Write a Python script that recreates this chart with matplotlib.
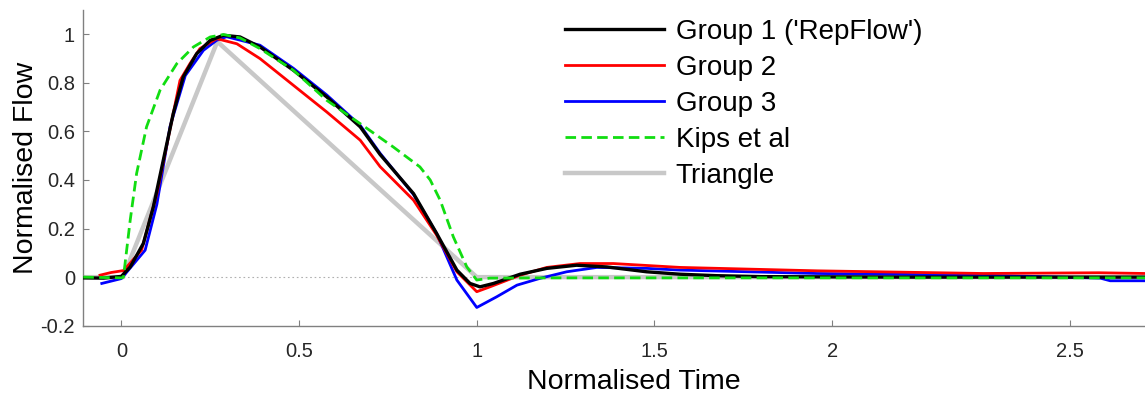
import numpy as np
import matplotlib
matplotlib.use('Agg')
import matplotlib.pyplot as plt

plt.rcParams['font.family'] = ['Liberation Sans', 'DejaVu Sans']

# Group 1 ('RepFlow')
g1_t = [-0.107, -0.05, 0.0, 0.025, 0.062, 0.09, 0.118, 0.146, 0.174, 0.212, 0.25, 0.287,
        0.334, 0.39, 0.484, 0.578, 0.672, 0.728, 0.822, 0.887, 0.944, 0.981, 1.009, 1.047,
        1.122, 1.197, 1.281, 1.366, 1.478, 1.572, 1.675, 1.8, 2.2, 2.6, 2.88]
g1_f = [-0.003, -0.004, 0.003, 0.042, 0.139, 0.289, 0.481, 0.673, 0.824, 0.92, 0.975, 0.996,
        0.989, 0.948, 0.852, 0.742, 0.619, 0.505, 0.344, 0.18, 0.029, -0.026, -0.04, -0.026,
        0.012, 0.036, 0.049, 0.042, 0.022, 0.012, 0.006, 0.002, 0.0, 0.0, 0.0]

# Group 2
g2_t = [-0.06, -0.029, 0.006, 0.057, 0.1, 0.165, 0.193, 0.221, 0.268, 0.325, 0.39, 0.484,
        0.578, 0.672, 0.728, 0.822, 0.887, 0.944, 1.0, 1.037, 1.122, 1.197, 1.29, 1.384,
        1.572, 1.957, 2.425, 2.75, 2.88]
g2_f = [0.008, 0.019, 0.027, 0.111, 0.344, 0.81, 0.879, 0.941, 0.982, 0.961, 0.9, 0.79,
        0.68, 0.564, 0.455, 0.317, 0.173, 0.022, -0.06, -0.04, 0.008, 0.04, 0.056, 0.056,
        0.04, 0.026, 0.015, 0.018, 0.015]

# Group 3
g3_t = [-0.055, 0.0, 0.067, 0.1, 0.137, 0.18, 0.231, 0.268, 0.296, 0.39, 0.484, 0.578,
        0.672, 0.728, 0.822, 0.887, 0.944, 1.0, 1.056, 1.113, 1.178, 1.253, 1.338, 1.478,
        1.572, 1.957, 2.425, 2.754, 2.782, 2.88]
g3_f = [-0.026, -0.006, 0.111, 0.3, 0.62, 0.83, 0.934, 0.975, 0.99, 0.955, 0.86, 0.75,
        0.625, 0.51, 0.34, 0.18, -0.012, -0.125, -0.081, -0.033, -0.005, 0.022, 0.04, 0.036,
        0.029, 0.015, 0.008, -0.004, -0.015, -0.015]

# Kips et al
kips_t = [-0.107, 0.0, 0.006, 0.025, 0.043, 0.071, 0.109, 0.156, 0.203, 0.25, 0.287, 0.334,
          0.39, 0.484, 0.578, 0.672, 0.765, 0.84, 0.869, 0.897, 0.934, 0.972, 1.0, 1.037,
          1.2, 2.88]
kips_f = [0.0, -0.003, 0.0, 0.235, 0.427, 0.619, 0.77, 0.879, 0.948, 0.989, 0.999, 0.985,
          0.941, 0.852, 0.728, 0.632, 0.536, 0.454, 0.4, 0.317, 0.166, 0.042, -0.012, -0.004,
          -0.003, -0.003]

# Triangle
tri_t = [-0.107, 0.005, 0.27, 1.0, 2.88]
tri_f = [0.0, 0.0, 0.97, 0.0, 0.0]

xtick_pos = [0, 0.5, 1, 1.5, 2, 2.67]
xtick_lab = ['0', '0.5', '1', '1.5', '2', '2.5']
ytick_pos = [-0.2, 0, 0.2, 0.4, 0.6, 0.8, 1]
ytick_lab = ['-0.2', '0', '0.2', '0.4', '0.6', '0.8', '1']

W, H = 1145, 395
fig = plt.figure(figsize=(W / 100, H / 100), dpi=100)
ax = fig.add_axes([83.3 / W, 1 - 325.7 / H, 1 - 83.3 / W, (325.7 - 10) / H])

ax.axhline(0, color='#b0b0b0', lw=0.8, ls=(0, (1.5, 2.5)), zorder=0)

l_tri, = ax.plot(tri_t, tri_f, color='#c8c8c8', lw=3.2, zorder=1, label='Triangle')
l_g3, = ax.plot(g3_t, g3_f, color='#0000ff', lw=2.0, zorder=2, label='Group 3')
l_g2, = ax.plot(g2_t, g2_f, color='#ff0000', lw=2.0, zorder=3, label='Group 2')
l_g1, = ax.plot(g1_t, g1_f, color='#000000', lw=2.4, zorder=4, label="Group 1 ('RepFlow')")
l_k, = ax.plot(kips_t, kips_f, color='#11dd11', lw=2.0, dashes=(3.8, 1.9), zorder=5, label='Kips et al')

ax.set_xlim(-0.107, 2.88)
ax.set_ylim(-0.2, 1.1)
ax.set_xticks(xtick_pos)
ax.set_xticklabels(xtick_lab)
ax.set_yticks(ytick_pos)
ax.set_yticklabels(ytick_lab)

for s in ['top', 'right']:
    ax.spines[s].set_visible(False)
for s in ['left', 'bottom']:
    ax.spines[s].set_color('#808080')
    ax.spines[s].set_linewidth(1.0)

ax.tick_params(axis='both', direction='in', length=4, width=0.8, color='#808080',
               labelsize=14.5, labelcolor='#262626')
ax.tick_params(axis='x', pad=12)
ax.tick_params(axis='y', pad=6)

ax.set_xlabel('Normalised Time', fontsize=20.5, color='#000000')
ax.set_ylabel('Normalised Flow', fontsize=20.5, color='#000000')
ax.xaxis.set_label_coords((634 - 83.3) / (W - 83.3), (325.7 - 369) / (325.7 - 10))
ax.yaxis.set_label_coords((39 - 83.3) / (W - 83.3), 0.5)

ax.legend(handles=[l_g1, l_g2, l_g3, l_k, l_tri], loc='upper left',
          bbox_to_anchor=(565 / W, 1 - 19 / H), bbox_transform=fig.transFigure,
          frameon=False, fontsize=20, handlelength=3.56, handletextpad=0.43,
          labelspacing=0.36, borderpad=0, borderaxespad=0)

plt.savefig('out.png', dpi=100)
